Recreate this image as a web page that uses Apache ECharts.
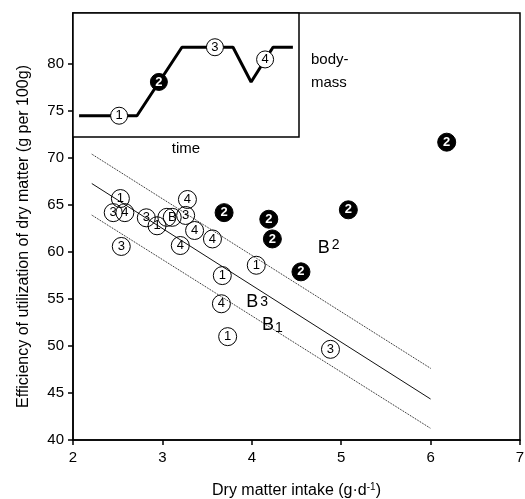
<!DOCTYPE html>
<html>
<head>
<meta charset="utf-8">
<script src="https://cdn.jsdelivr.net/npm/echarts@6/dist/echarts.min.js"></script>
<style>
  html, body { margin: 0; padding: 0; background: #fff; }
  #chart { width: 525px; height: 499px; }
</style>
</head>
<body>
<div id="chart"></div>
<script>
(function () {
    'use strict';

    // main scatter: dry matter intake (g/d) vs efficiency (g per 100g), by period
    var period1 = [[2.53, 65.7], [2.94, 62.8], [4.05, 58.6], [3.67, 57.5], [3.73, 51.0]];
    var period2 = [[3.69, 64.2], [4.19, 63.5], [4.23, 61.4], [4.55, 57.9], [5.08, 64.5], [6.18, 71.7]];
    var period3 = [[2.45, 64.2], [2.82, 63.65], [3.26, 63.9], [2.54, 60.6], [4.88, 49.65]];
    var period4 = [[2.58, 64.2], [3.28, 65.6], [3.36, 62.3], [3.56, 61.4], [3.20, 60.7], [3.66, 54.5]];
    var periodB = [[3.11, 63.7]];
    var plainCircle = [[3.05, 63.7]];

    // regression line with its band
    var fitLine = [[2.21, 67.3], [6.0, 44.36]];
    var upperLine = [[2.21, 70.43], [6.0, 47.63]];
    var lowerLine = [[2.21, 63.94], [6.0, 41.24]];

    // B labels: [x, y, base, index, kind]
    var bLabels = [[4.86, 60.4, 'B', '2', 'sup'], [4.06, 54.7, 'B', '3', 'mid'], [4.23, 52.2, 'B', '1', 'sub']];

    // inset: body mass over time
    var insetTime = [2.7, 28.3, 48.2, 70.8, 78.8, 88.5, 97.3];
    var insetMass = [74.5, 74.5, 81.8, 81.8, 78.1, 81.8, 81.8];
    var insetMarks = [[20.4, 74.5, '1'], [38.0, 78.1, '2'], [62.8, 81.8, '3'], [85.0, 80.5, '4']];

    var yTicks = [40, 45, 50, 55, 60, 65, 70, 75, 80];

    var font = 'Liberation Sans, Arial, sans-serif';
    var myChart = echarts.init(document.getElementById('chart'));

    function circleSeries(data, label, filled) {
        return {
            type: 'scatter',
            xAxisIndex: 0,
            yAxisIndex: 0,
            data: data,
            symbol: 'circle',
            symbolSize: 18,
            itemStyle: {
                color: filled ? '#000' : 'rgba(255,255,255,0)',
                borderColor: '#000',
                borderWidth: 1,
                opacity: 1
            },
            label: {
                show: label !== '',
                formatter: label,
                position: 'inside',
                color: filled ? '#fff' : '#000',
                fontSize: 13,
                fontWeight: filled ? 'bold' : 'normal',
                fontFamily: font
            },
            emphasis: { disabled: true },
            z: 5
        };
    }

    function bandLine(data, type) {
        return {
            type: 'line',
            xAxisIndex: 0,
            yAxisIndex: 0,
            data: data,
            symbol: 'none',
            lineStyle: { color: '#111', width: 1, type: type },
            z: 3
        };
    }

    var option = {
        animation: false,
        backgroundColor: '#fff',
        textStyle: { fontFamily: font },
        grid: [{
            left: 73, right: 5, top: 13, bottom: 59,
            outerBoundsMode: 'none',
            show: true,
            borderColor: '#000',
            borderWidth: 1.5
        }, {
            left: 73, top: 13, width: 226, height: 124,
            outerBoundsMode: 'none',
            show: true,
            backgroundColor: '#fff',
            borderColor: '#000',
            borderWidth: 1.5,
            z: 4
        }],
        xAxis: [{
            gridIndex: 0,
            type: 'value',
            min: 2, max: 7, interval: 1,
            name: 'Dry matter intake (g·d{sup|-1})',
            nameLocation: 'middle',
            nameGap: 42,
            nameTextStyle: {
                fontSize: 16, color: '#000', fontFamily: font,
                rich: { sup: { fontSize: 10, color: '#000', padding: [0, 0, 7, 0] } }
            },
            splitLine: { show: false },
            axisLine: { lineStyle: { color: '#000', width: 1.5 } },
            axisTick: { inside: false, length: 5, lineStyle: { color: '#000', width: 1.5 } },
            axisLabel: { color: '#000', fontSize: 15, margin: 10, fontFamily: font }
        }, {
            gridIndex: 1,
            type: 'value',
            min: 0, max: 100,
            name: 'time',
            nameLocation: 'middle',
            nameGap: 4,
            nameTextStyle: { fontSize: 15, color: '#000', fontFamily: font, verticalAlign: 'top' },
            splitLine: { show: false },
            axisLine: { show: false },
            axisTick: { show: false },
            axisLabel: { show: false }
        }],
        yAxis: [{
            gridIndex: 0,
            type: 'value',
            min: 40, max: 85.45,
            name: 'Efficiency of utilization of dry matter (g per 100g)',
            nameLocation: 'middle',
            nameGap: 41,
            nameTextStyle: { fontSize: 16, color: '#000', fontFamily: font, padding: [0, 20, 0, 0] },
            splitLine: { show: false },
            axisLine: { lineStyle: { color: '#000', width: 1.5 } },
            axisTick: { inside: false, length: 5, customValues: yTicks, lineStyle: { color: '#000', width: 1.5 } },
            axisLabel: { color: '#000', fontSize: 15, margin: 9, customValues: yTicks, fontFamily: font }
        }, {
            gridIndex: 1,
            type: 'value',
            min: 72.23, max: 85.45,
            splitLine: { show: false },
            axisLine: { show: false },
            axisTick: { show: false },
            axisLabel: { show: false }
        }],
        graphic: [{
            type: 'text',
            left: 311,
            top: 48,
            style: {
                text: 'body-\nmass',
                fontSize: 15,
                lineHeight: 23,
                fill: '#000',
                fontFamily: font
            }
        }],
        series: [
            bandLine(upperLine, 'dotted'),
            bandLine(fitLine, 'solid'),
            bandLine(lowerLine, 'dotted'),
            circleSeries(period1, '1', false),
            circleSeries(period3, '3', false),
            circleSeries(period4, '4', false),
            circleSeries(plainCircle, '', false),
            circleSeries(periodB, 'B', false),
            circleSeries(period2, '2', true),
            {
                type: 'scatter',
                xAxisIndex: 0,
                yAxisIndex: 0,
                data: bLabels.map(function (d) { return { value: [d[0], d[1]], base: d[2], idx: d[3], kind: d[4] }; }),
                symbolSize: 1,
                itemStyle: { color: '#fff', opacity: 1 },
                label: {
                    show: true,
                    position: 'inside',
                    formatter: function (p) {
                        return '{b|' + p.data.base + '}{' + p.data.kind + '|' + p.data.idx + '}';
                    },
                    rich: {
                        b: { fontSize: 18, color: '#000', fontFamily: font },
                        sup: { fontSize: 14, color: '#000', fontFamily: font, padding: [0, 0, 6, 2] },
                        mid: { fontSize: 14, color: '#000', fontFamily: font, padding: [0, 0, 0, 2] },
                        sub: { fontSize: 14, color: '#000', fontFamily: font, padding: [6, 0, 0, 1] }
                    }
                },
                emphasis: { disabled: true },
                z: 6
            },
            {
                type: 'line',
                xAxisIndex: 1,
                yAxisIndex: 1,
                data: insetTime.map(function (t, i) { return [t, insetMass[i]]; }),
                symbol: 'none',
                lineStyle: { color: '#000', width: 3 },
                z: 6
            },
            {
                type: 'scatter',
                xAxisIndex: 1,
                yAxisIndex: 1,
                data: insetMarks.map(function (m) {
                    var filled = m[2] === '2';
                    return {
                        value: [m[0], m[1]],
                        tag: m[2],
                        itemStyle: { color: filled ? '#000' : '#fff' },
                        label: { color: filled ? '#fff' : '#000', fontWeight: filled ? 'bold' : 'normal' }
                    };
                }),
                symbolSize: 17,
                itemStyle: { borderColor: '#000', borderWidth: 1, opacity: 1 },
                label: {
                    show: true,
                    position: 'inside',
                    formatter: function (p) { return p.data.tag; },
                    fontSize: 13,
                    fontFamily: font
                },
                emphasis: { disabled: true },
                z: 7
            }
        ]
    };

    myChart.setOption(option);
    window.addEventListener('resize', function () {
        myChart.resize();
    });
})();
</script>
</body>
</html>
